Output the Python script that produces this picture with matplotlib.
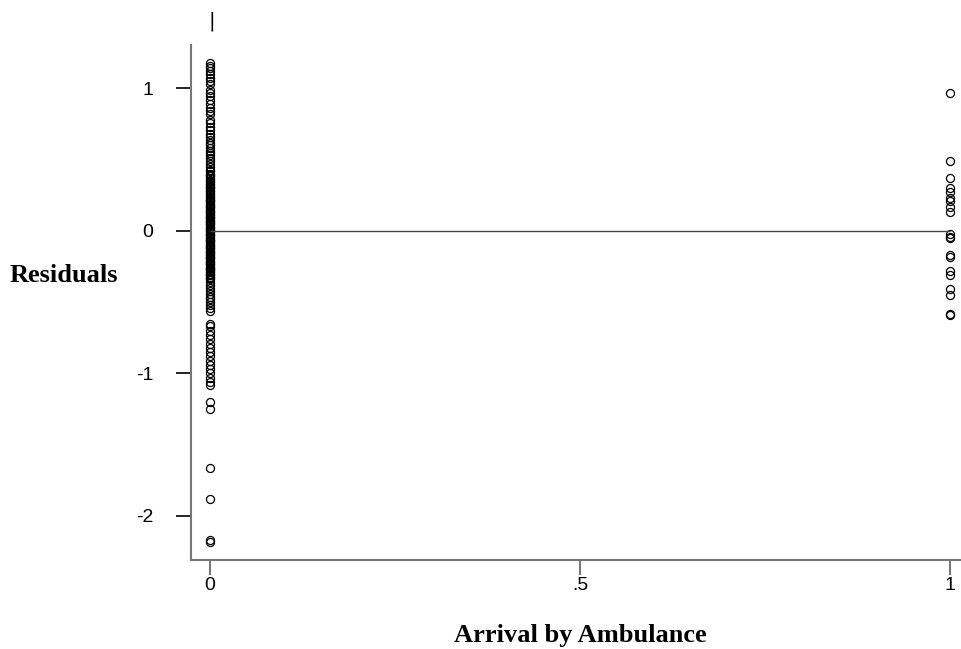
import matplotlib
matplotlib.use("Agg")
import matplotlib.pyplot as plt

# residuals for patients who did not arrive by ambulance (x = 0)
resid_walkin = [
    1.18, 1.16, 1.14, 1.12, 1.10, 1.07, 1.05, 1.03, 0.99, 0.97, 0.95, 0.92,
    0.89, 0.86, 0.84, 0.82, 0.78, 0.76, 0.73, 0.71, 0.68, 0.66, 0.64, 0.62,
    0.60, 0.58, 0.56, 0.55, 0.53, 0.51, 0.49, 0.47, 0.45, 0.43, 0.42, 0.40,
    0.39, 0.37, 0.36, 0.35, 0.33, 0.32, 0.31, 0.30, 0.29, 0.28, 0.27, 0.26,
    0.24, 0.23, 0.22, 0.21, 0.20, 0.19, 0.18, 0.17, 0.16, 0.15, 0.14, 0.13,
    0.12, 0.11, 0.10, 0.09, 0.08, 0.07, 0.06, 0.05, 0.04, 0.03, 0.02, 0.01,
    0.00, -0.01, -0.02, -0.03, -0.04, -0.05, -0.06, -0.07, -0.08, -0.09,
    -0.10, -0.11, -0.12, -0.13, -0.14, -0.15, -0.16, -0.17, -0.18, -0.19,
    -0.20, -0.21, -0.22, -0.23, -0.24, -0.25, -0.26, -0.27, -0.28, -0.29,
    -0.30, -0.31, -0.32, -0.33, -0.34, -0.36, -0.38, -0.40, -0.42, -0.44,
    -0.46, -0.48, -0.50, -0.52, -0.54, -0.56, -0.65, -0.67, -0.70, -0.73,
    -0.76, -0.79, -0.82, -0.85, -0.88, -0.91, -0.94, -0.97, -1.00, -1.03,
    -1.06, -1.08, -1.20, -1.25, -1.66, -1.88, -2.17, -2.18,
    0.385, 0.345, 0.305, 0.255, 0.215, 0.175, 0.135, 0.095, 0.055, 0.015,
    -0.025, -0.065, -0.105, -0.145, -0.185, -0.225, -0.265, -0.305,
]

# residuals for patients who arrived by ambulance (x = 1)
resid_ambulance = [
    0.97, 0.49, 0.37, 0.30, 0.27, 0.23, 0.21, 0.17, 0.13, -0.02, -0.04,
    -0.05, -0.17, -0.18, -0.28, -0.31, -0.41, -0.45, -0.58, -0.59,
]

y_ticks = [-2, -1, 0, 1]
x_ticks = [0, 0.5, 1]
x_ticklabels = ["0", ".5", "1"]

fig = plt.figure(figsize=(9.62, 6.49), dpi=100)
ax = fig.add_axes([0.1985, 0.1371, 0.8015, 0.7936])

ax.plot([0] * len(resid_walkin), resid_walkin, "o", mfc="none", mec="black",
        ms=5.8, mew=0.9, clip_on=False)
ax.plot([1] * len(resid_ambulance), resid_ambulance, "o", mfc="none",
        mec="black", ms=5.8, mew=0.9, clip_on=False)
ax.hlines(0, 0, 1, color="#444444", lw=1.0)

ax.set_xlim(-0.0257, 1.0162)
ax.set_ylim(-2.309, 1.305)

for side in ["top", "right"]:
    ax.spines[side].set_visible(False)
for side in ["left", "bottom"]:
    ax.spines[side].set_color("#777777")
    ax.spines[side].set_linewidth(1.5)

tick_font = {"family": "Liberation Sans", "size": 14}
ax.set_yticks(y_ticks)
ax.set_yticklabels([str(t) for t in y_ticks], fontdict=tick_font)
ax.set_xticks(x_ticks)
ax.set_xticklabels(x_ticklabels, fontdict=tick_font)
ax.tick_params(axis="y", length=11, width=1.2, color="black", pad=16)
ax.tick_params(axis="x", length=11, width=1.5, color="#777777", pad=1)

label_font = {"family": "Liberation Serif", "size": 19, "weight": "bold"}
fig.text(10 / 962, 1 - 282 / 649, "Residuals", ha="left", va="baseline",
         fontdict=label_font)
fig.text(580 / 962, 1 - 642 / 649, "Arrival by Ambulance", ha="center",
         va="baseline", fontdict=label_font)
fig.text(212 / 962, 1 - 21 / 649, "|", ha="center", va="center",
         fontsize=14, color="black")

fig.savefig("out.png", dpi=100)
